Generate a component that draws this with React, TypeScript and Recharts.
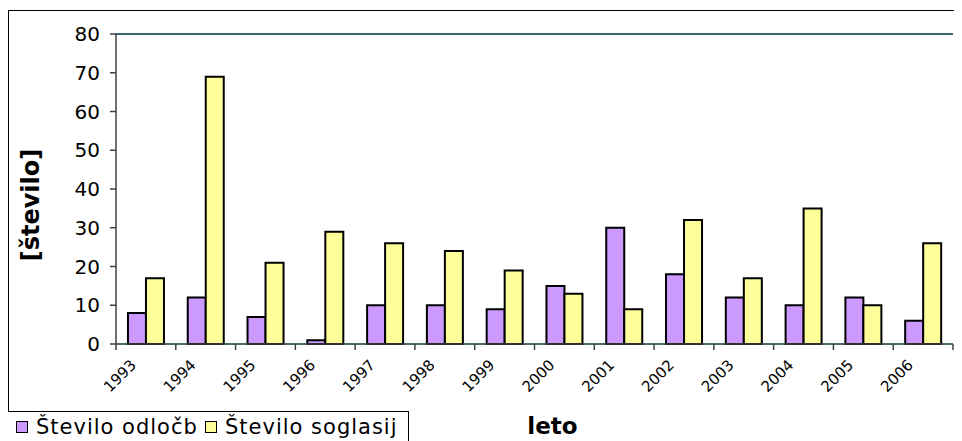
import React from 'react';
import { BarChart, Bar, XAxis, YAxis, CartesianGrid, ReferenceLine } from 'recharts';

const years = ['1993','1994','1995','1996','1997','1998','1999','2000','2001','2002','2003','2004','2005','2006'];
const odlocb = [8, 12, 7, 1, 10, 10, 9, 15, 30, 18, 12, 10, 12, 6];
const soglasij = [17, 69, 21, 29, 26, 24, 19, 13, 9, 32, 17, 35, 10, 26];
const yTicks = [0, 10, 20, 30, 40, 50, 60, 70, 80];
const seriesNames = ['Število odločb', 'Število soglasij'];
const seriesColors = ['#CC99FF', '#FFFF99'];

const data = years.map((y, i) => ({ year: y, odlocb: odlocb[i], soglasij: soglasij[i] }));

const FONT = '"DejaVu Sans", Verdana, sans-serif';
const CHART_W = 954;
const CHART_H = 430;
const MARGIN = { top: 24, right: 9, left: 0, bottom: 0 };
const YAXIS_W = 108;
const PLOT_W = CHART_W - MARGIN.right - YAXIS_W;

const XTick = (props: any) => {
  const { x, y, payload, index } = props;
  const band = PLOT_W / years.length;
  return (
    <g>
      <line x1={x - band / 2} y1={y - 8} x2={x - band / 2} y2={y - 2} stroke="#404040" strokeWidth={1.5} />
      {index === years.length - 1 && (
        <line x1={x + band / 2} y1={y - 8} x2={x + band / 2} y2={y - 2} stroke="#404040" strokeWidth={1.5} />
      )}
      <text
        x={0}
        y={0}
        transform={`translate(${x - 9},${y + 14}) rotate(-45)`}
        textAnchor="end"
        fontSize={15}
        fontFamily={FONT}
        fill="#000"
      >
        {payload.value}
      </text>
    </g>
  );
};

const YLabel = (props: any) => {
  const vb = props.viewBox;
  const cx = 23;
  const cy = vb.y + vb.height / 2 + 16;
  return (
    <text
      x={cx}
      y={cy}
      transform={`rotate(-90, ${cx}, ${cy})`}
      textAnchor="middle"
      dominantBaseline="central"
      fontSize={24}
      fontWeight="bold"
      fontFamily={FONT}
      fill="#000"
    >
      [število]
    </text>
  );
};

const XLabel = (props: any) => {
  const vb = props.viewBox;
  const cx = vb.x + vb.width / 2 + 18;
  return (
    <text
      x={cx}
      y={424}
      textAnchor="middle"
      fontSize={23}
      fontWeight="bold"
      fontFamily={FONT}
      fill="#000"
    >
      leto
    </text>
  );
};

export default function App() {
  return (
    <div
      style={{
        position: 'relative',
        marginTop: 2,
        width: CHART_W,
        height: CHART_H + 10,
        borderTop: '1px solid #000',
        borderLeft: '1px solid #000',
        borderBottom: '1px solid #000',
        boxSizing: 'border-box',
        fontFamily: FONT,
      }}
    >
      <div style={{ position: 'absolute', left: -1, top: -1 }}>
        <BarChart
          width={CHART_W}
          height={CHART_H}
          data={data}
          margin={MARGIN}
          barCategoryGap="20%"
          barGap={0}
        >
          <CartesianGrid horizontal vertical={false} stroke="#49D2F2" strokeWidth={1.3} />
          <XAxis
            dataKey="year"
            height={96}
            tickLine={false}
            axisLine={{ stroke: '#404040', strokeWidth: 1.5 }}
            interval={0}
            tick={<XTick />}
            label={<XLabel />}
          />
          <YAxis
            yAxisId="left"
            width={YAXIS_W}
            domain={[0, 80]}
            ticks={yTicks}
            interval={0}
            tickSize={6}
            tickMargin={10}
            tickLine={{ stroke: '#404040', strokeWidth: 1.5 }}
            axisLine={{ stroke: '#404040', strokeWidth: 1.5 }}
            tick={{ fontSize: 20, fill: '#000', fontFamily: FONT }}
            label={<YLabel />}
          />
          <YAxis
            yAxisId="right"
            orientation="right"
            width={0}
            domain={[0, 80]}
            ticks={yTicks}
            tick={false}
            tickLine={false}
            axisLine={{ stroke: '#404040', strokeWidth: 1.5 }}
          />
          <ReferenceLine yAxisId="left" y={80} stroke="#2a3a44" strokeWidth={1.5} />
          <Bar yAxisId="left" dataKey="odlocb" name={seriesNames[0]} fill={seriesColors[0]} stroke="#000" strokeWidth={2} isAnimationActive={false} />
          <Bar yAxisId="left" dataKey="soglasij" name={seriesNames[1]} fill={seriesColors[1]} stroke="#000" strokeWidth={2} isAnimationActive={false} />
        </BarChart>
      </div>
      <div
        style={{
          position: 'absolute',
          left: -9,
          top: 400,
          width: 409,
          height: 40,
          border: '1px solid #000',
          boxSizing: 'border-box',
          background: '#fff',
          fontSize: 21,
          letterSpacing: 1,
          fontFamily: FONT,
          whiteSpace: 'nowrap',
        }}
      >
        {seriesNames.map((n, i) => (
          <span
            key={n}
            style={{
              position: 'absolute',
              left: i === 0 ? 15 : 204,
              top: 3,
              display: 'inline-flex',
              alignItems: 'center',
              lineHeight: '24px',
            }}
          >
            <span
              style={{
                display: 'inline-block',
                width: 12,
                height: 12,
                background: seriesColors[i],
                border: '1.5px solid #000',
                boxSizing: 'border-box',
                marginRight: 8,
              }}
            />
            {n}
          </span>
        ))}
      </div>
    </div>
  );
}
